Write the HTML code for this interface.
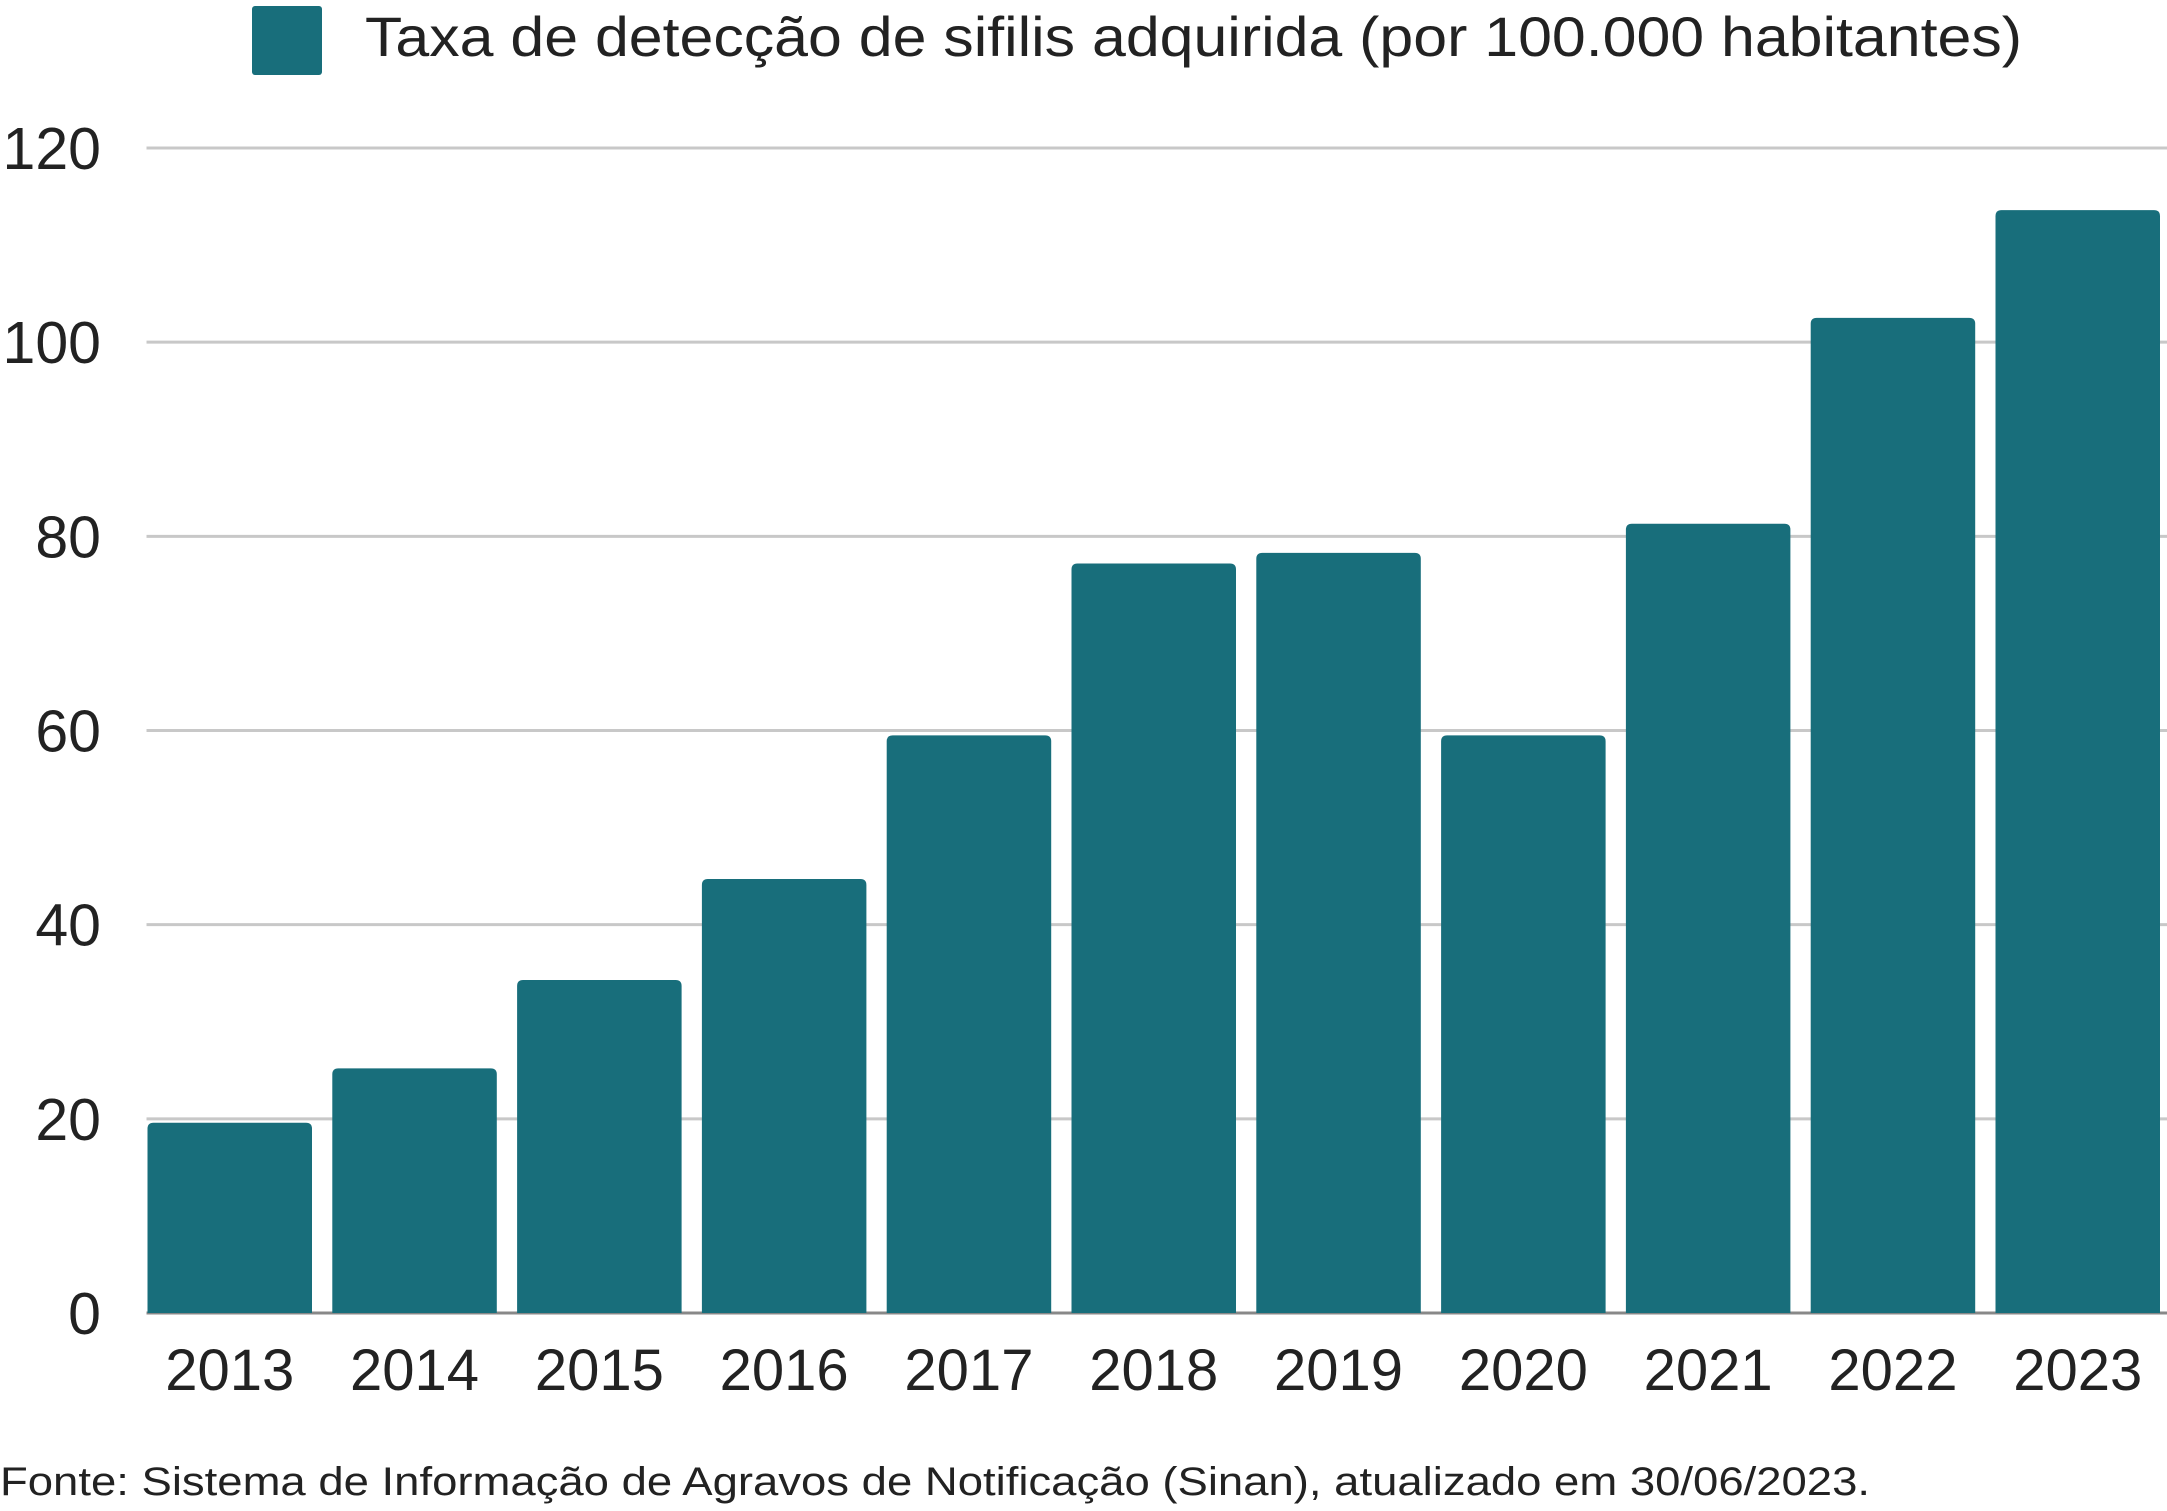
<!DOCTYPE html>
<html><head><meta charset="utf-8"><style>html,body{margin:0;padding:0;background:#fff}svg{display:block}</style></head>
<body>
<svg id="chart" width="2167" height="1511" viewBox="0 0 2167 1511" xmlns="http://www.w3.org/2000/svg" font-family="Liberation Sans, sans-serif">
<rect x="252" y="6" width="70" height="69" rx="3" fill="#186e7b"/>
<text x="365" y="56" font-size="56" fill="#222" textLength="1657" lengthAdjust="spacingAndGlyphs">Taxa de detecção de sifilis adquirida (por 100.000 habitantes)</text>
<g id="grid"></g><g id="bars"></g><g id="xl"></g>
<text x="0" y="1495" font-size="40" fill="#222" textLength="1870" lengthAdjust="spacingAndGlyphs">Fonte: Sistema de Informação de Agravos de Notificação (Sinan), atualizado em 30/06/2023.</text>
</svg>
<script>
const categories=["2013","2014","2015","2016","2017","2018","2019","2020","2021","2022","2023"];
const values=[19.6,25.2,34.3,44.7,59.5,77.2,78.3,59.5,81.3,102.5,113.6];
const yTicks=[0,20,40,60,80,100,120];
const NS="http://www.w3.org/2000/svg";
const L=147.5,R=2160,Y0=1313,Y1=148,YMAX=120;
const y=v=>Y0-(v/YMAX)*(Y0-Y1);
const bw=164.5;
const band=(R-L-bw)/(categories.length-1);
const x=i=>L+i*band;
function mk(t,a,p){const e=document.createElementNS(NS,t);for(const k in a)e.setAttribute(k,a[k]);p.appendChild(e);return e;}
const g=document.getElementById('grid'),b=document.getElementById('bars'),xl=document.getElementById('xl');
yTicks.forEach(t=>{
 const ln=mk('line',{x1:L-1,x2:R+7,y1:y(t),y2:y(t),stroke:t===0?'#888':'#c8c8c8','stroke-width':3},g);
 
 
 const tx=mk('text',{x:101,y:y(t)+21,'font-size':59,'text-anchor':'end',fill:'#222'},g);
 tx.textContent=t;
 
 
});
categories.forEach((c,i)=>{
 const top=y(values[i]);
 const r=mk('path',{d:`M${x(i)} ${Y0} V${top+6} Q${x(i)} ${top} ${x(i)+6} ${top} H${x(i)+bw-6} Q${x(i)+bw} ${top} ${x(i)+bw} ${top+6} V${Y0} Z`,fill:'#186e7b'},b);
 
 
 const t=mk('text',{x:x(i)+bw/2,y:1390,'font-size':58,'text-anchor':'middle',fill:'#222'},xl);
 t.textContent=c;
 
 
});
</script>
</body></html>
